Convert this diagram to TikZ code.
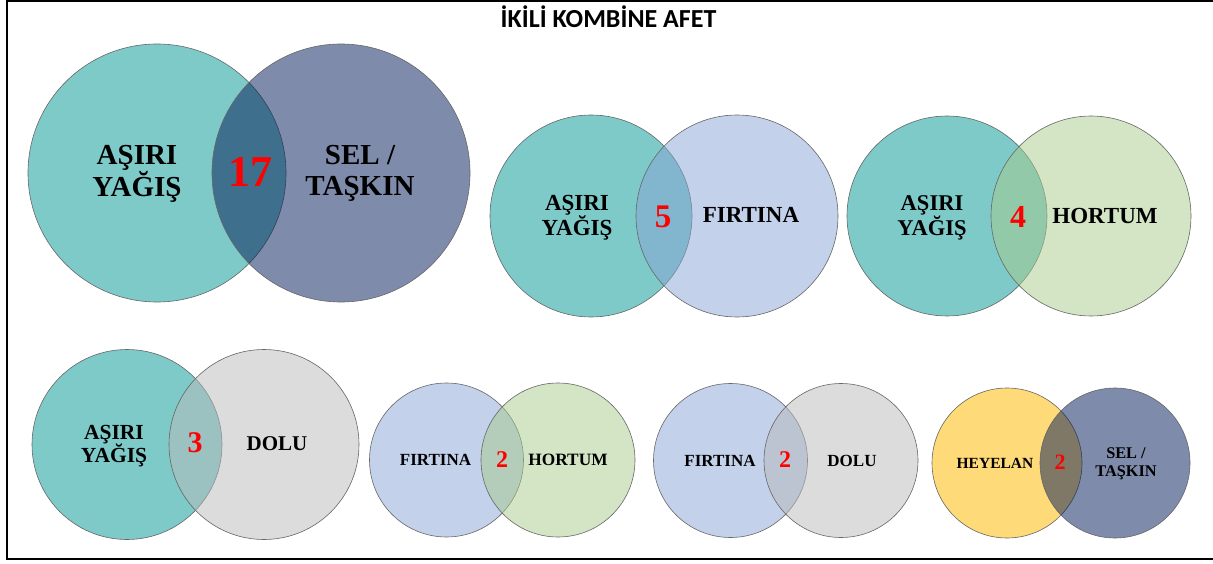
\documentclass[tikz,border=0pt]{standalone}
\usepackage{fontspec}
\setmainfont{Liberation Serif}
\newfontfamily\titlefont{Carlito}
\usetikzlibrary{positioning}

\definecolor{yagis}{RGB}{126,202,201}
\definecolor{selc}{RGB}{0,23,85}
\definecolor{firtinaL}{RGB}{195,209,234}
\definecolor{firtinaR}{RGB}{135,163,213}
\definecolor{hortumR}{RGB}{167,203,139}
\definecolor{doluR}{RGB}{185,185,185}
\definecolor{heyelan}{RGB}{255,218,120}

\begin{document}
\begin{tikzpicture}[x=1pt,y=-1pt,
		set/.style={circle, draw=black!60, line width=0.6pt, inner sep=0pt,
			minimum size=#1},
		front/.style={set=#1, fill opacity=0.5},
		txt/.style 2 args={font=\fontsize{#1}{#2}\selectfont\bfseries,
			align=center, inner sep=0pt},
		num/.style={font=\fontsize{#1}{#1}\selectfont\bfseries, text=red,
			inner sep=0pt}
		]
		\useasboundingbox (0,0) rectangle (1213,564);
		\draw[line width=2.5pt] (1216,1.25) -- (7,1.25) -- (7,559) -- (1216,559);
		
		\node[font=\titlefont\fontsize{26}{26}\selectfont\bfseries, anchor=base] (title) at (608.5,28) {İKİLİ KOMBİNE AFET};
		
		% asiri yagis - sel
		\node[set=258pt, fill=yagis] (a1) at (157,173) {};
		\node[front=258pt, fill=selc] (s1) at (341,173) {};
		\node[txt={29}{31}] (a1t) at (137,174) {AŞIRI\\YAĞIŞ};
		\node[num=44] (n1) at (250,172) {17};
		\node[txt={29}{31}] (s1t) at (360,173) {SEL /\\TAŞKIN};
		
		% asiri yagis - firtina
		\node[set=202pt, fill=yagis] (a2) at (591,216) {};
		\node[front=202pt, fill=firtinaR] (f2) at (737,216) {};
		\node[txt={23}{25}] (a2t) at (577,218) {AŞIRI\\YAĞIŞ};
		\node[num=33] (n2) at (663,217) {5};
		\node[txt={23}{25}] (f2t) at (751,215) {FIRTINA};
		
		% asiri yagis - hortum
		\node[set=200pt, fill=yagis] (a3) at (947,216) {};
		\node[front=200pt, fill=hortumR] (h3) at (1091,216) {};
		\node[txt={22.5}{25}] (a3t) at (932,218) {AŞIRI\\YAĞIŞ};
		\node[num=32] (n3) at (1018,217) {4};
		\node[txt={23}{25}] (h3t) at (1105,215.5) {HORTUM};
		
		% asiri yagis - dolu
		\node[set=190pt, fill=yagis] (a4) at (127,444.5) {};
		\node[front=190pt, fill=doluR] (d4) at (264,444.5) {};
		\node[txt={21.5}{23.5}] (a4t) at (114,446) {AŞIRI\\YAĞIŞ};
		\node[num=30] (n4) at (195,443) {3};
		\node[txt={21}{23}] (d4t) at (277,444) {DOLU};
		
		% firtina - hortum
		\node[set=154pt, fill=firtinaL] (f5) at (446.5,460) {};
		\node[front=154pt, fill=hortumR] (h5) at (558,460) {};
		\node[txt={17}{19}] (f5t) at (435.5,460) {FIRTINA};
		\node[num=24] (n5) at (502,460) {2};
		\node[txt={17.3}{19}] (h5t) at (568,460) {HORTUM};
		
		% firtina - dolu
		\node[set=154pt, fill=firtinaL] (f6) at (730.5,460.5) {};
		\node[front=154pt, fill=doluR] (d6) at (841,460.5) {};
		\node[txt={17}{19}] (f6t) at (720,461) {FIRTINA};
		\node[num=24] (n6) at (785,460) {2};
		\node[txt={17}{19}] (d6t) at (852,461) {DOLU};
		
		% heyelan - sel
		\node[set=150pt, fill=heyelan] (h7) at (1007,463) {};
		\node[front=150pt, fill=selc] (s7) at (1115,463) {};
		\node[txt={15.5}{17}] (h7t) at (995,463) {HEYELAN};
		\node[num=22] (n7) at (1060,462) {2};
		\node[txt={16.3}{18}] (s7t) at (1126,463.5) {SEL /\\TAŞKIN};
\end{tikzpicture}
\end{document}
